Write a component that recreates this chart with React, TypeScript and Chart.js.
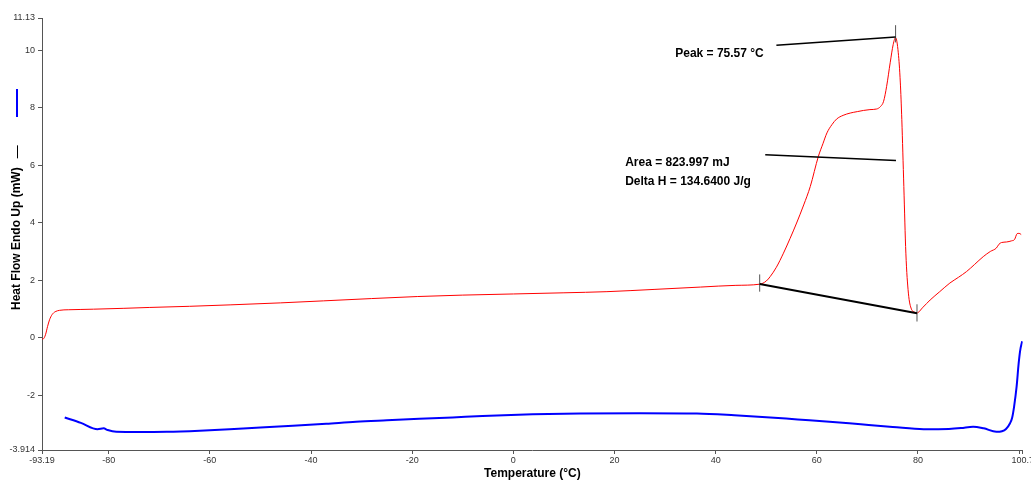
import React, { useEffect, useRef } from "react";
import { Chart, registerables } from "chart.js";

Chart.register(...registerables);

const redX = [-93.19, -92.9, -92.5, -92.1, -91.7, -91.2, -90.6, -89.7, -88.0, -85.5, -83.0, -77.0, -72.0, -64.0, -56.0, -46.0, -37.5, -28.0, -19.0, -10.0, 0.0, 10.0, 18.5, 28.0, 37.0, 44.0, 48.7, 50.0, 50.8, 52.0, 53.4, 54.7, 56.0, 57.4, 58.7, 60.3, 61.2, 62.0, 63.0, 63.9, 65.2, 66.6, 68.0, 69.2, 70.5, 71.8, 72.6, 73.2, 73.8, 74.5, 75.1, 75.57, 76.1, 76.5, 76.8, 77.2, 77.6, 78.1, 78.7, 79.2, 79.7, 81.0, 82.4, 84.3, 86.3, 88.0, 89.6, 91.2, 92.9, 94.3, 95.5, 96.0, 96.5, 97.5, 98.5, 99.1, 99.6, 100.0, 100.4];
const redY = [-0.05, -0.04, 0.1, 0.38, 0.62, 0.8, 0.9, 0.95, 0.97, 0.98, 0.99, 1.02, 1.05, 1.09, 1.14, 1.21, 1.28, 1.36, 1.43, 1.48, 1.52, 1.56, 1.6, 1.68, 1.76, 1.82, 1.86, 1.97, 2.13, 2.45, 2.94, 3.45, 3.99, 4.62, 5.26, 6.31, 6.75, 7.13, 7.42, 7.61, 7.74, 7.82, 7.87, 7.91, 7.94, 7.96, 8.05, 8.23, 8.75, 9.57, 10.21, 10.45, 9.92, 8.9, 7.59, 5.26, 2.94, 1.55, 0.99, 0.9, 0.85, 1.06, 1.31, 1.6, 1.9, 2.1, 2.3, 2.55, 2.82, 3.0, 3.12, 3.25, 3.31, 3.33, 3.37, 3.42, 3.62, 3.63, 3.59];

const blueX = [-88.7, -85.5, -82.2, -81.0, -80.2, -78.5, -74.0, -68.5, -62.0, -56.1, -50.0, -43.6, -37.0, -31.1, -25.0, -18.6, -12.0, -6.1, 3.8, 13.2, 25.0, 36.3, 43.7, 50.0, 56.2, 62.5, 68.7, 75.0, 81.1, 86.1, 88.5, 90.9, 93.0, 95.5, 96.6, 97.4, 98.2, 98.6, 99.0, 99.5, 99.9, 100.2, 100.6];
const blueY = [-2.78, -2.97, -3.19, -3.16, -3.22, -3.28, -3.29, -3.28, -3.24, -3.19, -3.13, -3.07, -3.0, -2.93, -2.88, -2.83, -2.78, -2.73, -2.67, -2.64, -2.63, -2.64, -2.7, -2.77, -2.85, -2.93, -3.02, -3.11, -3.19, -3.18, -3.15, -3.1, -3.16, -3.28, -3.26, -3.18, -2.98, -2.8, -2.4, -1.7, -0.9, -0.45, -0.13];

const xTickValues = [-93.19, -80, -60, -40, -20, 0, 20, 40, 60, 80, 100, 100.7];
const xTickLabels = ["-93.19", "-80", "-60", "-40", "-20", "0", "20", "40", "60", "80", "", "100.7"];
const yTickValues = [-3.914, -2, 0, 2, 4, 6, 8, 10, 11.13];
const yTickLabels = ["-3.914", "-2", "0", "2", "4", "6", "8", "10", "11.13"];

// annotation geometry (data coordinates)
const baselineX = [48.7, 79.8];
const baselineY = [1.87, 0.85];
const peakLeaderX = [52.0, 75.57];
const peakLeaderY = [10.18, 10.47];
const areaLeaderX = [49.8, 75.65];
const areaLeaderY = [6.37, 6.17];
const markerX = [48.7, 79.8, 75.57];
const markerYLow = [1.6, 0.56, 10.28];
const markerYHigh = [2.2, 1.16, 10.88];

const peakText = "Peak = 75.57 °C";
const areaText = "Area = 823.997 mJ";
const deltaText = "Delta H = 134.6400 J/g";
const textPosX = [32.0, 22.1, 22.1];
const textPosY = [9.9, 6.08, 5.44];

const FONT = '"Liberation Sans", Arial, sans-serif';

const zip = (xs: number[], ys: number[]) => xs.map((x, i) => ({ x, y: ys[i] }));

export default function App() {
  const ref = useRef<HTMLCanvasElement | null>(null);

  useEffect(() => {
    if (!ref.current) return;
    const markers = markerX.map((mx, i) => ({
      data: [
        { x: mx, y: markerYLow[i] },
        { x: mx, y: markerYHigh[i] },
      ],
      borderColor: "#555555",
      borderWidth: 1,
      pointRadius: 0,
      order: 0,
    }));

    const textPlugin = {
      id: "annotText",
      afterDatasetsDraw(chart: any) {
        const { ctx, scales } = chart;
        const xs = scales.x;
        const ys = scales.y;
        ctx.save();
        ctx.fillStyle = "#000";
        ctx.font = `bold 12px ${FONT}`;
        ctx.textAlign = "left";
        ctx.textBaseline = "middle";
        const texts = [peakText, areaText, deltaText];
        texts.forEach((t, i) => {
          ctx.fillText(t, xs.getPixelForValue(textPosX[i]), ys.getPixelForValue(textPosY[i]));
        });
        ctx.restore();
      },
      afterDraw(chart: any) {
        const { ctx } = chart;
        ctx.save();
        ctx.translate(17, 310);
        ctx.rotate(-Math.PI / 2);
        ctx.font = `bold 12px ${FONT}`;
        ctx.fillStyle = "#000";
        ctx.textAlign = "left";
        ctx.textBaseline = "middle";
        const label = "Heat Flow Endo Up (mW)";
        ctx.fillText(label, 0, 0);
        const w = ctx.measureText(label).width;
        ctx.strokeStyle = "#000";
        ctx.lineWidth = 1;
        ctx.beginPath();
        ctx.moveTo(w + 9, 0.5);
        ctx.lineTo(w + 22, 0.5);
        ctx.stroke();
        ctx.restore();
        ctx.save();
        ctx.strokeStyle = "#0000ff";
        ctx.lineWidth = 2;
        ctx.beginPath();
        ctx.moveTo(17, 89);
        ctx.lineTo(17, 117);
        ctx.stroke();
        ctx.restore();
      },
    };

    const chart = new Chart(ref.current, {
      type: "line",
      data: {
        datasets: [
          { data: zip(baselineX, baselineY), borderColor: "#000", borderWidth: 2, pointRadius: 0, order: 0 },
          { data: zip(peakLeaderX, peakLeaderY), borderColor: "#000", borderWidth: 1.5, pointRadius: 0, order: 0 },
          { data: zip(areaLeaderX, areaLeaderY), borderColor: "#000", borderWidth: 1.5, pointRadius: 0, order: 0 },
          ...markers,
          {
            data: zip(redX, redY),
            borderColor: "#ff0000",
            borderWidth: 1,
            pointRadius: 0,
            cubicInterpolationMode: "monotone",
            order: 1,
          },
          {
            data: zip(blueX, blueY),
            borderColor: "#0000ff",
            borderWidth: 2,
            pointRadius: 0,
            cubicInterpolationMode: "monotone",
            order: 1,
          },
        ] as any,
      },
      options: {
        animation: false,
        responsive: false,
        devicePixelRatio: 1,
        layout: { padding: { top: 18, right: 8.3, bottom: 0, left: 0 } },
        plugins: { legend: { display: false }, tooltip: { enabled: false } },
        elements: { line: { fill: false } },
        scales: {
          x: {
            type: "linear",
            min: -93.19,
            max: 100.7,
            afterBuildTicks: (s: any) => {
              s.ticks = xTickValues.map((v) => ({ value: v }));
            },
            afterFit: (s: any) => {
              s.height = 35;
              s.paddingRight = 0;
              s.paddingLeft = 0;
            },
            ticks: {
              autoSkip: false,
              maxRotation: 0,
              padding: 1,
              color: "#333",
              font: { size: 9, family: FONT },
              callback: (_v: any, i: number) => xTickLabels[i],
            },
            grid: { drawOnChartArea: false, drawTicks: true, tickLength: 4, color: "#555" },
            border: { display: true, color: "#555", width: 1 },
            title: {
              display: true,
              text: "Temperature (°C)",
              color: "#000",
              font: { size: 12, weight: "bold", family: FONT },
              padding: { top: 0, bottom: 4 },
            },
          },
          y: {
            type: "linear",
            min: -3.914,
            max: 11.13,
            afterBuildTicks: (s: any) => {
              s.ticks = yTickValues.map((v) => ({ value: v }));
            },
            afterFit: (s: any) => {
              s.width = 42;
            },
            ticks: {
              autoSkip: false,
              padding: 3,
              color: "#333",
              font: { size: 9, family: FONT },
              callback: (_v: any, i: number) => yTickLabels[i],
            },
            grid: { drawOnChartArea: false, drawTicks: true, tickLength: 4, color: "#555" },
            border: { display: true, color: "#555", width: 1 },
          },
        },
      } as any,
      plugins: [textPlugin],
    });
    return () => chart.destroy();
  }, []);

  return (
    <div style={{ position: "fixed", left: 0, top: 0, width: 1031, height: 485, overflow: "hidden", background: "#fff" }}>
      <canvas ref={ref} width={1031} height={485} style={{ display: "block" }} />
    </div>
  );
}
